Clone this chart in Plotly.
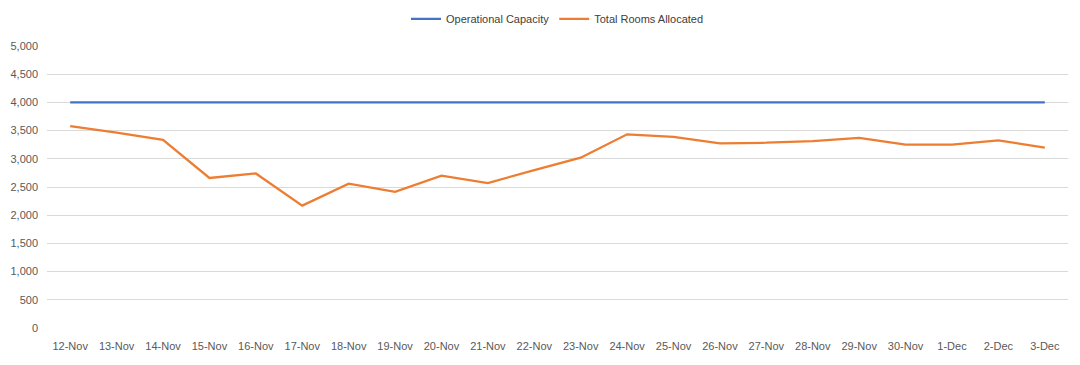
import plotly.graph_objects as go

dates = ["12-Nov", "13-Nov", "14-Nov", "15-Nov", "16-Nov", "17-Nov", "18-Nov", "19-Nov",
         "20-Nov", "21-Nov", "22-Nov", "23-Nov", "24-Nov", "25-Nov", "26-Nov", "27-Nov",
         "28-Nov", "29-Nov", "30-Nov", "1-Dec", "2-Dec", "3-Dec"]
operational_capacity = [4000] * 22
total_rooms_allocated = [3580, 3465, 3335, 2660, 2740, 2170, 2560, 2415,
                         2700, 2570, 2800, 3020, 3435, 3390, 3275, 3285,
                         3315, 3370, 3250, 3250, 3325, 3200]
y_ticks = [0, 500, 1000, 1500, 2000, 2500, 3000, 3500, 4000, 4500, 5000]

FONT = "Liberation Sans"
GREY = "#595959"

fig = go.Figure()
fig.add_trace(go.Scatter(x=dates, y=operational_capacity, mode="lines",
                         name="Operational Capacity",
                         line=dict(color="#4472C4", width=2.25)))
fig.add_trace(go.Scatter(x=dates, y=total_rooms_allocated, mode="lines",
                         name="Total Rooms Allocated",
                         line=dict(color="#ED7D31", width=2.25)))

fig.update_layout(
    width=1080, height=365,
    margin=dict(l=39, r=20, t=38, b=45, autoexpand=False),
    paper_bgcolor="white", plot_bgcolor="white",
    font=dict(family=FONT, size=11, color=GREY),
    showlegend=True,
    legend=dict(orientation="h", x=0.5, xanchor="center",
                yref="container", y=0.97, yanchor="middle",
                font=dict(family=FONT, size=11, color="#404040"),
                itemwidth=30, traceorder="normal"),
    xaxis=dict(type="category", range=[-0.5, len(dates) - 0.5],
               showgrid=False, showline=False, zeroline=False, automargin=False,
               ticks="", ticklabelstandoff=10, tickfont=dict(size=11, color=GREY)),
    yaxis=dict(range=[0, 5000], tickvals=y_ticks, tickformat=",d", automargin=False,
               showgrid=True, gridcolor="#D9D9D9", gridwidth=1,
               zeroline=False, showline=False, ticks="",
               ticklabelstandoff=8, tickfont=dict(size=11, color=GREY)),
)

fig.write_html("out.html")
